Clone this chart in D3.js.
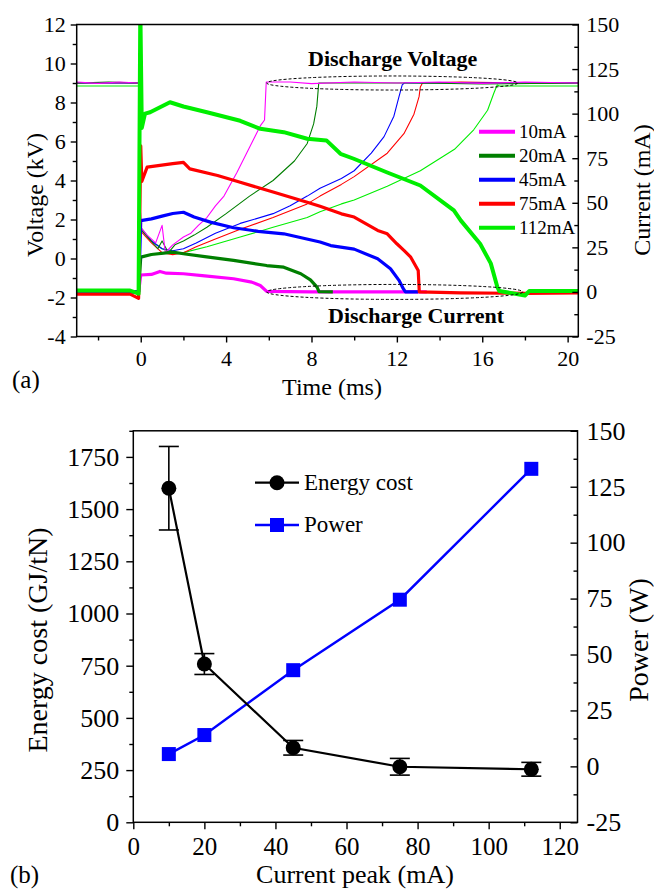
<!DOCTYPE html>
<html><head><meta charset="utf-8">
<script src="https://cdn.jsdelivr.net/npm/d3@7"></script>
<style>body{margin:0;background:#fff}svg{display:block}</style>
</head><body><svg id="c" width="654" height="890"></svg>
<script>
// ---------------- Panel (a) data: [time ms, value] ----------------
const seriesNames = ["10mA","20mA","45mA","75mA","112mA"];
const seriesColors = ["#ff00ff","#007f00","#0000ff","#ff0000","#00ee00"];

// Voltage traces (kV, left axis) - thin lines
const voltage10 = [[-3,9.05],[-2,8.98],[-1,9.05],[-0.1,9.0],[0,1.6],[0.3,1.2],[0.7,0.8],[1.0,1.7],[1.15,0.3],[1.5,0.7],[2.0,1.1],[2.35,1.3],[2.7,1.7],[3.1,2.1],[3.5,2.7],[3.9,3.2],[4.5,4.4],[5.1,5.7],[5.6,6.8],[5.8,7.1],[5.88,9.05],[7,9.05],[8,8.97],[10,9.05],[12,9.0],[14,9.05],[16,8.98],[18,9.05],[20.5,9.0]];
const voltage20 = [[-3,9.0],[-1.5,9.05],[-0.1,9.0],[0,1.5],[0.4,1.0],[0.8,0.5],[1.0,0.9],[1.3,0.3],[1.6,0.7],[2.0,0.9],[2.5,1.2],[3.1,1.6],[4.0,2.3],[5.1,3.2],[6.2,4.0],[7.2,5.0],[7.8,5.9],[8.1,6.9],[8.25,7.8],[8.34,9.0],[10,9.0],[13,9.0],[16,8.95],[20.5,9.0]];
const voltage45 = [[-3,9.0],[-0.1,9.0],[0,1.5],[0.5,0.9],[1.0,0.5],[1.5,0.4],[2.0,0.5],[2.6,0.8],[3.5,1.3],[4.66,1.8],[6.2,2.3],[7.0,2.7],[7.8,3.2],[8.4,3.6],[9.4,4.1],[10.0,4.5],[10.8,5.4],[11.4,6.25],[11.86,7.3],[12.1,8.3],[12.25,8.9],[12.35,9.0],[14,9.0],[17,9.0],[20.5,9.0]];
const voltage75 = [[-3,9.0],[-0.1,9.0],[0,1.4],[0.5,0.8],[1.0,0.3],[1.5,0.2],[2.0,0.3],[2.6,0.6],[3.5,1.0],[4.66,1.5],[6.2,2.1],[7.8,2.8],[8.4,3.2],[9.4,3.8],[10.0,4.2],[11.55,5.4],[12.33,6.4],[12.8,7.4],[13.04,8.3],[13.1,8.8],[13.2,9.0],[15,9.05],[18,9.0],[20.5,9.0]];
const voltage112 = [[-3,8.85],[-0.1,8.85],[0,1.6],[0.5,0.9],[1.0,0.5],[1.5,0.3],[2.0,0.3],[3.1,0.6],[4.66,1.1],[6.2,1.6],[7.8,2.1],[8.4,2.4],[9.4,2.8],[10.0,3.0],[11.55,3.7],[13.1,4.5],[14.7,5.6],[15.6,6.6],[16.25,7.6],[16.55,8.5],[16.7,8.9],[16.8,8.85],[18,8.85],[20.5,8.85]];

// Current traces (mA, right axis) - thick lines
const current10 = [[-3,0],[-1,0.3],[-0.1,0],[0,9.5],[0.5,9.8],[0.9,11.5],[1.2,10.5],[2,10.2],[3,9],[4.35,7.4],[5.2,5.5],[5.6,3.6],[5.9,0.3],[8,0],[12,0],[13.4,0]];
const current20 = [[-3,0],[-0.1,0],[0,19.5],[0.5,21],[1.5,22.3],[2.0,21.4],[3.0,19.8],[4.35,17.7],[5.9,14.8],[6.7,13.9],[7.5,10.2],[7.95,6.8],[8.26,2.7],[8.35,0.2],[9,0]];
const current45 = [[-3,0],[-0.1,0],[0,40],[0.5,41],[1.0,42.5],[1.5,44],[2.0,44.7],[2.5,42],[3.3,39],[4.35,36],[5.5,34],[6.7,32.6],[8.4,28],[8.9,26],[10,24],[11.1,18.6],[11.7,13],[12.1,6.5],[12.3,1.8],[12.4,0],[13,0]];
const current75 = [[-3,-1.2],[-0.5,-1.2],[-0.1,-3.6],[0,82],[0.05,62],[0.3,70],[1.5,72],[2.0,72.7],[2.3,69],[3.6,65.3],[4.66,61.5],[6.2,56],[7.8,50.3],[8.4,48],[9.4,43.8],[10,42],[11.1,34.5],[11.55,32.6],[12.0,27],[12.33,23.3],[12.65,19.5],[13.0,12],[13.05,0],[15,-0.5],[18,-0.8],[20.5,-0.5]];
const current112 = [[-3,0.8],[-0.5,0.8],[-0.1,-1],[-0.02,160],[0.05,92],[0.2,100],[0.44,100.8],[1.37,106.4],[2.0,104],[3.1,100.8],[4.66,96],[5.6,91.5],[6.7,89.6],[7.8,85.9],[8.7,85],[9.36,77.5],[9.98,74.7],[11.55,67],[13.1,59.7],[14.67,45.7],[15.0,40],[15.9,27],[16.4,16],[16.7,3],[16.8,0.5],[18.0,-2],[18.2,0.5],[20.5,0.5]];

const voltageSeries = [voltage10, voltage20, voltage45, voltage75, voltage112];
const currentSeries = [current10, current20, current45, current75, current112];

// Panel (a) axis ticks
const voltTicks = [-4,-2,0,2,4,6,8,10,12];
const voltMinor = [-3,-1,1,3,5,7,9,11];
const curTicks = [-25,0,25,50,75,100,125,150];
const curMinor = [-12.5,12.5,37.5,62.5,87.5,112.5,137.5];
const timeTicks = [0,4,8,12,16,20];
const timeMinor = [-2,2,6,10,14,18];
// Annotation ellipses (data units): [centre time, half-width ms, centre value, half-height]
const voltageEllipse = [11.78, 5.88, 9.0, 0.36];   // kV
const currentEllipse = [11.9, 6.0, 0.0, 4.2];      // mA

// ---------------- Panel (b) data ----------------
const currentPeak = [10,20,45,75,112];
const energyCost = [1600,758,357,266,254];
const energyErr = [200,50,35,40,33];
const powerW = [5.5,14,43,74.5,133];
const peakTicks = [0,20,40,60,80,100,120];
const peakMinor = [10,30,50,70,90,110];
const energyTicks = [0,250,500,750,1000,1250,1500,1750];
const energyMinor = [125,375,625,875,1125,1375,1625,1875];
const powerTicks = [-25,0,25,50,75,100,125,150];
const powerMinor = [-12.5,12.5,37.5,62.5,87.5,112.5,137.5];

// ---------------- Drawing ----------------
const svg = d3.select("#c");
const FONT = "Liberation Serif";
const fmt = d => String(d);

function styleAxis(g, size){
  g.select(".domain").remove();
  g.attr("font-size", size);
  g.selectAll(".tick line").attr("stroke","#000").attr("stroke-width",1.4);
  g.selectAll(".tick text").attr("fill","#000");
}

// ===== Panel (a) =====
const A = {l:76.7, r:578.3, t:24.5, b:336.5};
const xA = d3.scaleLinear([-3,20.5],[A.l,A.r]);
const yV = d3.scaleLinear([-4,12],[A.b,A.t]);
const yI = d3.scaleLinear([-25,150],[A.b,A.t]);

svg.append("clipPath").attr("id","clipA").append("rect")
  .attr("x",A.l).attr("y",A.t).attr("width",A.r-A.l).attr("height",A.b-A.t);

const gA = svg.append("g").attr("clip-path","url(#clipA)");
const lineV = d3.line().x(d=>xA(d[0])).y(d=>yV(d[1]));
const lineI = d3.line().x(d=>xA(d[0])).y(d=>yI(d[1]));

[4,3,2,1,0].forEach(i=>{
  gA.append("path").attr("d",lineV(voltageSeries[i])).attr("fill","none")
    .attr("stroke",seriesColors[i]).attr("stroke-width",1.1).attr("stroke-linejoin","round");
});
[0,1,2,3,4].forEach(i=>{
  gA.append("path").attr("d",lineI(currentSeries[i])).attr("fill","none")
    .attr("stroke",seriesColors[i]).attr("stroke-width",i===4?4:3.2).attr("stroke-linejoin","round");
});

gA.append("ellipse")
  .attr("cx",xA(voltageEllipse[0])).attr("rx",xA(voltageEllipse[0]+voltageEllipse[1])-xA(voltageEllipse[0]))
  .attr("cy",yV(voltageEllipse[2])).attr("ry",yV(voltageEllipse[2])-yV(voltageEllipse[2]+voltageEllipse[3]))
  .attr("fill","none").attr("stroke","#000").attr("stroke-width",1).attr("stroke-dasharray","3,2");
gA.append("ellipse")
  .attr("cx",xA(currentEllipse[0])).attr("rx",xA(currentEllipse[0]+currentEllipse[1])-xA(currentEllipse[0]))
  .attr("cy",yI(currentEllipse[2])).attr("ry",yI(currentEllipse[2])-yI(currentEllipse[2]+currentEllipse[3]))
  .attr("fill","none").attr("stroke","#000").attr("stroke-width",1).attr("stroke-dasharray","3,2");

svg.append("rect").attr("x",A.l).attr("y",A.t).attr("width",A.r-A.l).attr("height",A.b-A.t)
  .attr("fill","none").attr("stroke","#000").attr("stroke-width",1.5);

svg.append("g").attr("transform",`translate(${A.l},0)`)
  .call(d3.axisLeft(yV).tickValues(voltTicks).tickSize(6).tickPadding(5).tickFormat(fmt)).call(g=>styleAxis(g,22));
svg.append("g").attr("transform",`translate(${A.l},0)`)
  .call(d3.axisLeft(yV).tickValues(voltMinor).tickSize(4).tickFormat("")).call(g=>styleAxis(g,22));
svg.append("g").attr("transform",`translate(${A.r},0)`)
  .call(d3.axisRight(yI).tickValues(curTicks).tickSize(-6).tickPadding(8).tickFormat(fmt)).call(g=>styleAxis(g,22));
svg.append("g").attr("transform",`translate(${A.r},0)`)
  .call(d3.axisRight(yI).tickValues(curMinor).tickSize(-4).tickFormat("")).call(g=>styleAxis(g,22));
svg.append("g").attr("transform",`translate(0,${A.b})`)
  .call(d3.axisBottom(xA).tickValues(timeTicks).tickSize(6).tickPadding(8).tickFormat(fmt)).call(g=>styleAxis(g,22));
svg.append("g").attr("transform",`translate(0,${A.b})`)
  .call(d3.axisBottom(xA).tickValues(timeMinor).tickSize(4).tickFormat("")).call(g=>styleAxis(g,22));

svg.append("text").attr("transform","translate(43,195) rotate(-90)").attr("text-anchor","middle")
  .attr("font-size",24).text("Voltage (kV)");
svg.append("text").attr("transform","translate(650,190) rotate(-90)").attr("text-anchor","middle")
  .attr("font-size",24).text("Current (mA)");
svg.append("text").attr("x",332).attr("y",395).attr("text-anchor","middle").attr("font-size",24).text("Time (ms)");
svg.append("text").attr("x",12).attr("y",388).attr("font-size",25).text("(a)");
svg.append("text").attr("x",308).attr("y",66).attr("font-size",22).attr("font-weight","bold").text("Discharge Voltage");
svg.append("text").attr("x",328).attr("y",323).attr("font-size",22).attr("font-weight","bold").text("Discharge Current");

const legA = svg.append("g");
seriesNames.forEach((n,i)=>{
  const y = 131.7 + i*24;
  legA.append("line").attr("x1",479).attr("x2",515).attr("y1",y).attr("y2",y)
    .attr("stroke",seriesColors[i]).attr("stroke-width",4);
  legA.append("text").attr("x",519).attr("y",y+6.5).attr("font-size",19).text(n);
});

// ===== Panel (b) =====
const B = {l:133.3, r:577.5, t:430.8, b:822.3};
const xB = d3.scaleLinear([0,125],[B.l,B.r]);
const yE = d3.scaleLinear([0,1875],[B.b,B.t]);
const yP = d3.scaleLinear([-25,150],[B.b,B.t]);

svg.append("rect").attr("x",B.l).attr("y",B.t).attr("width",B.r-B.l).attr("height",B.b-B.t)
  .attr("fill","none").attr("stroke","#000").attr("stroke-width",1.5);

svg.append("g").attr("transform",`translate(${B.l},0)`)
  .call(d3.axisLeft(yE).tickValues(energyTicks).tickSize(7).tickPadding(7).tickFormat(fmt)).call(g=>styleAxis(g,26));
svg.append("g").attr("transform",`translate(${B.l},0)`)
  .call(d3.axisLeft(yE).tickValues(energyMinor).tickSize(4).tickFormat("")).call(g=>styleAxis(g,26));
svg.append("g").attr("transform",`translate(${B.r},0)`)
  .call(d3.axisRight(yP).tickValues(powerTicks).tickSize(-7).tickPadding(9).tickFormat(fmt)).call(g=>styleAxis(g,26));
svg.append("g").attr("transform",`translate(${B.r},0)`)
  .call(d3.axisRight(yP).tickValues(powerMinor).tickSize(-4).tickFormat("")).call(g=>styleAxis(g,26));
svg.append("g").attr("transform",`translate(0,${B.b})`)
  .call(d3.axisBottom(xB).tickValues(peakTicks).tickSize(7).tickPadding(8).tickFormat(fmt)).call(g=>styleAxis(g,25));
svg.append("g").attr("transform",`translate(0,${B.b})`)
  .call(d3.axisBottom(xB).tickValues(peakMinor).tickSize(4).tickFormat("")).call(g=>styleAxis(g,25));

const energyData = currentPeak.map((c,i)=>({x:c, y:energyCost[i], e:energyErr[i]}));
const powerData = currentPeak.map((c,i)=>({x:c, y:powerW[i]}));

svg.append("path").attr("d",d3.line().x(d=>xB(d.x)).y(d=>yP(d.y))(powerData))
  .attr("fill","none").attr("stroke","#0000ff").attr("stroke-width",2.4);
svg.selectAll(".sq").data(powerData).join("rect").attr("class","sq")
  .attr("x",d=>xB(d.x)-7).attr("y",d=>yP(d.y)-7).attr("width",14).attr("height",14).attr("fill","#0000ff");

svg.append("path").attr("d",d3.line().x(d=>xB(d.x)).y(d=>yE(d.y))(energyData))
  .attr("fill","none").attr("stroke","#000").attr("stroke-width",2.2);
const eb = svg.selectAll(".eb").data(energyData).join("g").attr("class","eb")
  .attr("stroke","#000").attr("stroke-width",1.6);
eb.append("line").attr("x1",d=>xB(d.x)).attr("x2",d=>xB(d.x)).attr("y1",d=>yE(d.y-d.e)).attr("y2",d=>yE(d.y+d.e));
eb.append("line").attr("x1",d=>xB(d.x)-10).attr("x2",d=>xB(d.x)+10).attr("y1",d=>yE(d.y-d.e)).attr("y2",d=>yE(d.y-d.e));
eb.append("line").attr("x1",d=>xB(d.x)-10).attr("x2",d=>xB(d.x)+10).attr("y1",d=>yE(d.y+d.e)).attr("y2",d=>yE(d.y+d.e));
svg.selectAll(".ci").data(energyData).join("circle").attr("class","ci")
  .attr("cx",d=>xB(d.x)).attr("cy",d=>yE(d.y)).attr("r",7.5).attr("fill","#000");

svg.append("line").attr("x1",255).attr("x2",299).attr("y1",482.7).attr("y2",482.7).attr("stroke","#000").attr("stroke-width",2.2);
svg.append("circle").attr("cx",277).attr("cy",482.7).attr("r",7.5).attr("fill","#000");
svg.append("text").attr("x",304).attr("y",490).attr("font-size",23).text("Energy cost");
svg.append("line").attr("x1",255).attr("x2",299).attr("y1",525).attr("y2",525).attr("stroke","#0000ff").attr("stroke-width",2.4);
svg.append("rect").attr("x",270).attr("y",518).attr("width",14).attr("height",14).attr("fill","#0000ff");
svg.append("text").attr("x",304).attr("y",532).attr("font-size",23).text("Power");

svg.append("text").attr("transform","translate(47,640) rotate(-90)").attr("text-anchor","middle")
  .attr("font-size",28).text("Energy cost (GJ/tN)");
svg.append("text").attr("transform","translate(648,640) rotate(-90)").attr("text-anchor","middle")
  .attr("font-size",28).text("Power (W)");
svg.append("text").attr("x",355).attr("y",883).attr("text-anchor","middle").attr("font-size",26).text("Current peak (mA)");
svg.append("text").attr("x",10).attr("y",883).attr("font-size",25).text("(b)");

// apply serif font to every text element
svg.selectAll("text").style("font-family", FONT).attr("fill","#000");
</script></body></html>
